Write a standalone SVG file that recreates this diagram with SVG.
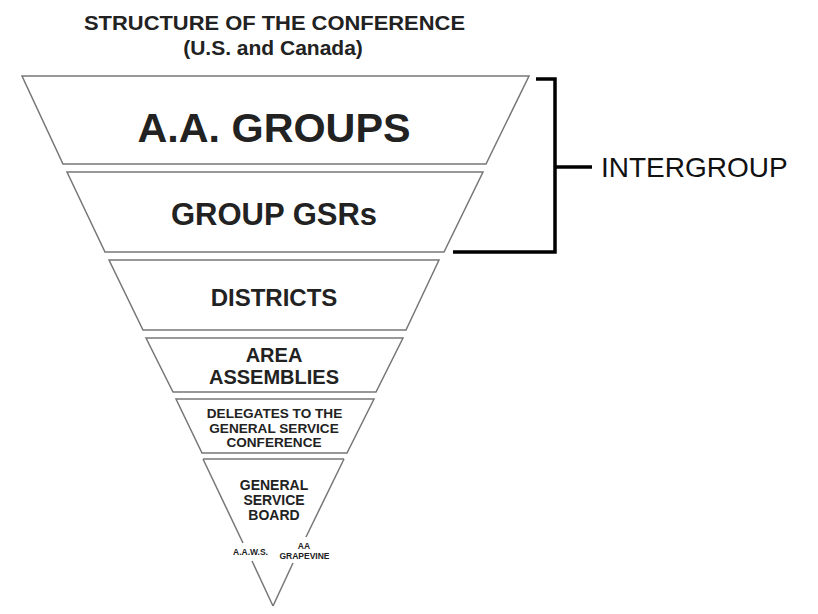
<svg xmlns="http://www.w3.org/2000/svg" width="818" height="614" viewBox="0 0 818 614">
<style>
.shape{fill:#ffffff;stroke:#777777;stroke-width:1.5;stroke-linejoin:miter}
.side{fill:none;stroke:#777777;stroke-width:1.5}
.lbl{font-family:"Liberation Sans",Arial,sans-serif;font-weight:bold;fill:#222222;text-anchor:middle}
.brk{fill:none;stroke:#000000;stroke-width:3.5}
</style>
<rect width="818" height="614" fill="#ffffff"/>
<g id="title">
<text class="lbl" x="274.5" y="30" font-size="20.5" textLength="381" lengthAdjust="spacingAndGlyphs">STRUCTURE OF THE CONFERENCE</text>
<text class="lbl" x="273" y="55" font-size="21">(U.S. and Canada)</text>
</g>
<g id="aa-groups">
<polygon class="shape" points="22,76 529,76 486,164 63,164"/>
<text class="lbl" x="274" y="142" font-size="41.5" textLength="273" lengthAdjust="spacingAndGlyphs">A.A. GROUPS</text>
</g>
<g id="group-gsrs">
<polygon class="shape" points="67,172 483,172 444,252 105,252"/>
<text class="lbl" x="274" y="225" font-size="31">GROUP GSRs</text>
</g>
<g id="districts">
<polygon class="shape" points="109,260 439,260 406,330 143,330"/>
<text class="lbl" x="274" y="306" font-size="24">DISTRICTS</text>
</g>
<g id="area-assemblies">
<polygon class="shape" points="146,338 403,338 376,392 173,392"/>
<text class="lbl" x="274" y="362" font-size="20">AREA</text>
<text class="lbl" x="274" y="384" font-size="20">ASSEMBLIES</text>
</g>
<g id="delegates">
<polygon class="shape" points="176,399 374,399 347,453 202,453"/>
<text class="lbl" x="274.5" y="418" font-size="13.6">DELEGATES TO THE</text>
<text class="lbl" x="274" y="433" font-size="13.6">GENERAL SERVICE</text>
<text class="lbl" x="274" y="447" font-size="13.6">CONFERENCE</text>
</g>
<g id="general-service-board">
<line class="side" x1="203" y1="459" x2="344" y2="459"/>
<line class="side" x1="203" y1="459" x2="243" y2="543"/>
<line class="side" x1="252" y1="561" x2="273" y2="606"/>
<line class="side" x1="344" y1="459" x2="306" y2="537"/>
<line class="side" x1="293" y1="563" x2="273" y2="606"/>
<text class="lbl" x="274" y="490" font-size="14">GENERAL</text>
<text class="lbl" x="274" y="505" font-size="14">SERVICE</text>
<text class="lbl" x="274" y="520" font-size="14">BOARD</text>
</g>
<g id="aaws">
<text class="lbl" x="250.5" y="555" font-size="8.5">A.A.W.S.</text>
</g>
<g id="grapevine">
<text class="lbl" x="304" y="549" font-size="8.5">AA</text>
<text class="lbl" x="304.5" y="559" font-size="8.5">GRAPEVINE</text>
</g>
<g id="connectors">
<polyline class="brk" points="536,79 555,79 555,252 453,252"/>
<line class="brk" x1="555" y1="167" x2="592" y2="167"/>
</g>
<g id="intergroup">
<text x="601" y="177" font-family="'Liberation Sans',Arial,sans-serif" font-size="28" fill="#111111">INTERGROUP</text>
</g>
</svg>
